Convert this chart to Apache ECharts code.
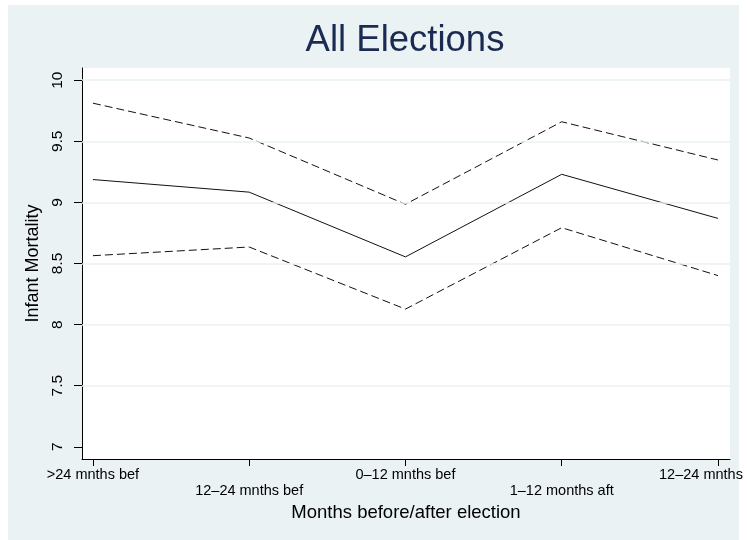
<!DOCTYPE html>
<html>
<head>
<meta charset="utf-8">
<script src="https://cdn.jsdelivr.net/npm/echarts@6/dist/echarts.min.js"></script>
<style>
  html, body { margin: 0; padding: 0; background: #ffffff; }
  #chart { width: 747px; height: 540px; }
</style>
</head>
<body>
<div id="chart"></div>
<script>
// Periods relative to the election date
const categories = ['>24 mnths bef', '12\u201324 mnths bef', '0\u201312 mnths bef', '1\u201312 months aft', '12\u201324 mnths'];
// Infant mortality: point estimate and confidence band
const meanIMR  = [9.187, 9.084, 8.554, 9.230, 8.869];
const upperCI  = [9.812, 9.527, 8.985, 9.660, 9.347];
const lowerCI  = [8.564, 8.635, 8.127, 8.793, 8.401];
// Y axis ticks and the gridlines drawn on them
const yTicks   = [7, 7.5, 8, 8.5, 9, 9.5, 10];
const yGrid    = [7.5, 8, 8.5, 9, 9.5, 10];
const xTicks   = [0, 1, 2, 3, 4];

const FONT = '"Liberation Sans", Arial, Helvetica, sans-serif';
const BG = '#eaf2f3';

const toPoints = arr => arr.map((v, i) => [i, v]);

const chart = echarts.init(document.getElementById('chart'), null, { renderer: 'canvas' });

chart.setOption({
  backgroundColor: '#ffffff',
  animation: false,
  graphic: [
    { type: 'rect', z: -10, silent: true,
      shape: { x: 8, y: 5, width: 731, height: 535 },
      style: { fill: BG } },
    { type: 'text', z: 10, silent: true,
      x: 405, y: 22,
      style: { text: 'All Elections', font: '36.5px ' + FONT, fill: '#1b2a52',
               textAlign: 'center', textVerticalAlign: 'top' } }
  ],
  grid: {
    left: 82, top: 68, width: 648, height: 391,
    show: true, backgroundColor: '#ffffff', borderWidth: 0,
    containLabel: false, outerBoundsMode: 'none'
  },
  xAxis: {
    type: 'value', min: -0.07, max: 4.077,
    name: 'Months before/after election',
    nameLocation: 'middle', nameGap: 38,
    nameTextStyle: { fontFamily: FONT, fontSize: 18.5, color: '#000' },
    axisLine: { show: true, onZero: false, lineStyle: { color: '#000', width: 1 } },
    axisTick: { show: true, length: 7, customValues: xTicks, lineStyle: { color: '#000' } },
    splitLine: { show: false },
    axisLabel: {
      customValues: xTicks,
      margin: 8, hideOverlap: false,
      fontFamily: FONT, fontSize: 14.5, color: '#000', lineHeight: 16,
      formatter: function (v) {
        const i = Math.round(v);
        if (i === categories.length - 1) return '{last|' + categories[i] + '}';
        return (i % 2 === 1 ? '\n' : '') + categories[i];
      },
      rich: {
        last: { fontFamily: FONT, fontSize: 14.5, color: '#000', lineHeight: 16, padding: [0, 34, 0, 0] }
      }
    }
  },
  yAxis: {
    type: 'value', min: 6.9, max: 10.1,
    name: 'Infant Mortality',
    nameLocation: 'middle', nameGap: 36, nameRotate: 90,
    nameTextStyle: { fontFamily: FONT, fontSize: 18, color: '#000' },
    axisLine: { show: true, onZero: false, lineStyle: { color: '#000', width: 1 } },
    axisTick: { show: true, length: 8, customValues: yTicks, lineStyle: { color: '#000' } },
    splitLine: { show: false },
    axisLabel: {
      customValues: yTicks,
      rotate: 90, margin: 16,
      fontFamily: FONT, fontSize: 15.5, color: '#000',
      formatter: v => String(v)
    }
  },
  series: [
    {
      name: 'grid', type: 'line', data: [], silent: true, z: 1,
      markLine: {
        silent: true, symbol: 'none', animation: false,
        label: { show: false },
        lineStyle: { color: BG, width: 1.5, type: 'solid' },
        data: yGrid.map(v => ({ yAxis: v }))
      }
    },
    {
      name: 'Upper', type: 'line', data: toPoints(upperCI), z: 3,
      showSymbol: false, symbol: 'none',
      lineStyle: { color: '#111', width: 1, type: [8, 4] }
    },
    {
      name: 'Mean', type: 'line', data: toPoints(meanIMR), z: 3,
      showSymbol: false, symbol: 'none',
      lineStyle: { color: '#111', width: 1, type: 'solid' }
    },
    {
      name: 'Lower', type: 'line', data: toPoints(lowerCI), z: 3,
      showSymbol: false, symbol: 'none',
      lineStyle: { color: '#111', width: 1, type: [8, 4] }
    }
  ]
});
</script>
</body>
</html>
